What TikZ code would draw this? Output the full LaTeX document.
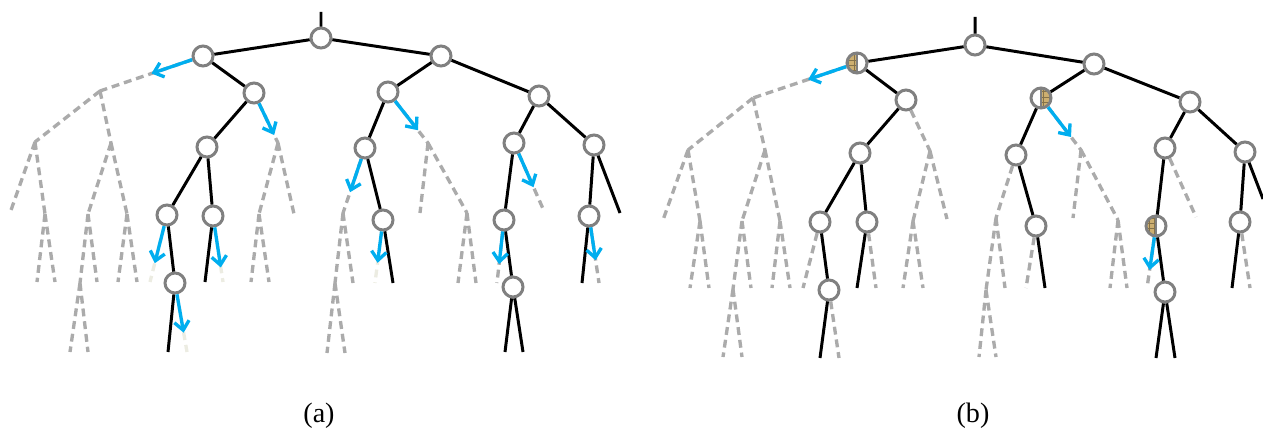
\documentclass[tikz,border=0pt]{standalone}
\usepackage{fontspec}
\setmainfont{Liberation Serif}
\usetikzlibrary{calc,arrows.meta,patterns}
\definecolor{hop}{RGB}{0,174,239}
\definecolor{seed}{RGB}{205,175,112}
\definecolor{husk}{RGB}{236,236,226}
\tikzstyle{vertex}=[circle,draw=gray,line width=1.7pt,fill=white,minimum size=0.4cm,inner sep=0pt]
\tikzstyle{tree}=[black,line width=1.7pt]
\tikzstyle{pruned}=[gray!66,line width=1.9pt,dash pattern=on 4.5pt off 2.8pt]
\tikzstyle{faded}=[pruned,draw=husk]
\tikzstyle{leap}=[draw=hop,line width=1.9pt,-{Straight Barb[length=5pt,width=8.5pt]}]
\tikzstyle{seedl}=[vertex,path picture={
  \fill[seed] (path picture bounding box.south west) rectangle (path picture bounding box.north);
  \fill[pattern=grid,pattern color=seed!65!black] (path picture bounding box.south west) rectangle (path picture bounding box.north);
  \draw[gray,line width=1.2pt] (path picture bounding box.north) -- (path picture bounding box.south);}]
\tikzstyle{seedr}=[vertex,path picture={
  \fill[seed] (path picture bounding box.south) rectangle (path picture bounding box.north east);
  \fill[pattern=grid,pattern color=seed!65!black] (path picture bounding box.south) rectangle (path picture bounding box.north east);
  \draw[gray,line width=1.2pt] (path picture bounding box.north) -- (path picture bounding box.south);}]

\begin{document}
\begin{tikzpicture}[x=0.02cm,y=-0.02cm]
\useasboundingbox (0,0) rectangle (1263,429);

% ---------- (a) ----------
\node[vertex] (ar) at (321,38) {};
\node[vertex] (aA) at (203,56) {};
\node[vertex] (aB) at (441,56) {};
\node[vertex] (aC) at (254,93) {};
\node[vertex] (aD) at (207,147) {};
\node[vertex] (aE) at (167,215) {};
\node[vertex] (aF) at (213,216) {};
\node[vertex] (aG) at (175,283) {};
\node[vertex] (aH) at (388,92) {};
\node[vertex] (aI) at (539,96) {};
\node[vertex] (aJ) at (365,148) {};
\node[vertex] (aK) at (383,220) {};
\node[vertex] (aL) at (514,143) {};
\node[vertex] (aM) at (594,145) {};
\node[vertex] (aN) at (504,220) {};
\node[vertex] (aO) at (513,287) {};
\node[vertex] (aP) at (589,216) {};

\coordinate (aT) at (321,12);
\coordinate (ax1) at (100,91);
\coordinate (ax2) at (35,142);
\coordinate (ax3) at (111,143);
\coordinate (ax4) at (10,213);
\coordinate (ax5) at (45,214);
\coordinate (ax6) at (37,282);
\coordinate (ax7) at (55,282);
\coordinate (ax8) at (88,214);
\coordinate (ax9) at (127,214);
\coordinate (ax10) at (80,283);
\coordinate (ax11) at (97,282);
\coordinate (ax12) at (70,352);
\coordinate (ax13) at (88,352);
\coordinate (ax14) at (118,282);
\coordinate (ax15) at (137,282);
\coordinate (ay1) at (278,143);
\coordinate (ay2) at (259,214);
\coordinate (ay3) at (294,214);
\coordinate (ay4) at (251,282);
\coordinate (ay5) at (269,282);
\coordinate (az1) at (428,143);
\coordinate (az2) at (420,213);
\coordinate (az3) at (467,213);
\coordinate (az4) at (458,283);
\coordinate (az5) at (476,283);
\coordinate (aw1) at (343,213);
\coordinate (aw2) at (335,283);
\coordinate (aw3) at (353,283);
\coordinate (aw4) at (327,353);
\coordinate (aw5) at (345,353);
\coordinate (aE1) at (150,282);
\coordinate (aG1) at (168,352);
\coordinate (aG2) at (187,352);
\coordinate (aF1) at (205,282);
\coordinate (aF2) at (223,282);
\coordinate (aK1) at (375,283);
\coordinate (aK2) at (393,283);
\coordinate (aL1) at (544,211);
\coordinate (aN1) at (497,283);
\coordinate (aO1) at (505,352);
\coordinate (aO2) at (523,352);
\coordinate (aM1) at (620,213);
\coordinate (aP1) at (582,283);
\coordinate (aP2) at (599,283);

\draw[tree] (ar) -- (aT) (ar) -- (aA) (ar) -- (aB);
\draw[tree] (aA) -- (aC) (aC) -- (aD) (aD) -- (aE) (aD) -- (aF) (aE) -- (aG) (aG) -- (aG1) (aF) -- (aF1);
\draw[tree] (aB) -- (aH) (aB) -- (aI) (aH) -- (aJ) (aJ) -- (aK) (aK) -- (aK2);
\draw[tree] (aI) -- (aL) (aI) -- (aM) (aL) -- (aN) (aN) -- (aO) (aO) -- (aO1) (aO) -- (aO2);
\draw[tree] (aM) -- (aP) (aM) -- (aM1) (aP) -- (aP1);

\draw[pruned] (aA) -- (ax1) (ax1) -- (ax2) (ax1) -- (ax3) (ax2) -- (ax4) (ax2) -- (ax5)
  (ax5) -- (ax6) (ax5) -- (ax7) (ax3) -- (ax8) (ax3) -- (ax9) (ax8) -- (ax10) (ax8) -- (ax11)
  (ax10) -- (ax12) (ax10) -- (ax13) (ax9) -- (ax14) (ax9) -- (ax15);
\draw[pruned] (aC) -- (ay1) (ay1) -- (ay2) (ay1) -- (ay3) (ay2) -- (ay4) (ay2) -- (ay5);
\draw[pruned] (aH) -- (az1) (az1) -- (az2) (az1) -- (az3) (az3) -- (az4) (az3) -- (az5);
\draw[pruned] (aJ) -- (aw1) (aw1) -- (aw2) (aw1) -- (aw3) (aw2) -- (aw4) (aw2) -- (aw5);
\draw[pruned] (aL) -- (aL1) (aN) -- (aN1) (aP) -- (aP2);
\draw[faded] (aE) -- (aE1) (aG) -- (aG2) (aF) -- (aF2) (aK) -- (aK1);

\draw[leap] (aA) -- ($(aA)!.5!(ax1)$);
\draw[leap] (aC) -- ($(aC)!.84!(ay1)$);
\draw[leap] (aE) -- ($(aE)!.72!(aE1)$);
\draw[leap] (aG) -- ($(aG)!.72!(aG2)$);
\draw[leap] (aF) -- ($(aF)!.78!(aF2)$);
\draw[leap] (aH) -- ($(aH)!.75!(az1)$);
\draw[leap] (aJ) -- ($(aJ)!.68!(aw1)$);
\draw[leap] (aK) -- ($(aK)!.68!(aK1)$);
\draw[leap] (aL) -- ($(aL)!.65!(aL1)$);
\draw[leap] (aN) -- ($(aN)!.7!(aN1)$);
\draw[leap] (aP) -- ($(aP)!.66!(aP2)$);

\node[font=\fontsize{16}{18}\selectfont] (capa) at (319,416) {(a)};

% ---------- (b) ----------
\node[vertex] (br) at (975,45) {};
\node[seedl] (bA) at (857,63) {};
\node[vertex] (bB) at (1094,64) {};
\node[vertex] (bC) at (906,100) {};
\node[vertex] (bD) at (860,153) {};
\node[vertex] (bE) at (820,222) {};
\node[vertex] (bF) at (867,222) {};
\node[vertex] (bG) at (829,290) {};
\node[seedr] (bH) at (1041,98) {};
\node[vertex] (bI) at (1190,102) {};
\node[vertex] (bJ) at (1016,155) {};
\node[vertex] (bK) at (1036,226) {};
\node[vertex] (bL) at (1165,148) {};
\node[vertex] (bM) at (1245,152) {};
\node[seedl] (bN) at (1156,226) {};
\node[vertex] (bO) at (1165,292) {};
\node[vertex] (bP) at (1240,222) {};

\coordinate (bT) at (975,17);
\coordinate (bx1) at (753,98);
\coordinate (bx2) at (688,150);
\coordinate (bx3) at (765,150);
\coordinate (bx4) at (663,220);
\coordinate (bx5) at (700,221);
\coordinate (bx6) at (690,288);
\coordinate (bx7) at (709,288);
\coordinate (bx8) at (742,221);
\coordinate (bx9) at (780,221);
\coordinate (bx10) at (733,289);
\coordinate (bx11) at (751,288);
\coordinate (bx12) at (723,357);
\coordinate (bx13) at (742,357);
\coordinate (bx14) at (772,288);
\coordinate (bx15) at (790,288);
\coordinate (by1) at (930,151);
\coordinate (by2) at (913,221);
\coordinate (by3) at (947,219);
\coordinate (by4) at (903,288);
\coordinate (by5) at (923,288);
\coordinate (bz1) at (1081,150);
\coordinate (bz2) at (1073,218);
\coordinate (bz3) at (1118,220);
\coordinate (bz4) at (1110,288);
\coordinate (bz5) at (1127,288);
\coordinate (bw1) at (996,218);
\coordinate (bw2) at (986,290);
\coordinate (bw3) at (1005,288);
\coordinate (bw4) at (979,357);
\coordinate (bw5) at (996,357);
\coordinate (bE1) at (803,288);
\coordinate (bG1) at (820,358);
\coordinate (bG2) at (839,358);
\coordinate (bF1) at (857,288);
\coordinate (bF2) at (876,288);
\coordinate (bK1) at (1026,288);
\coordinate (bK2) at (1045,288);
\coordinate (bL1) at (1196,217);
\coordinate (bN1) at (1147,288);
\coordinate (bO1) at (1156,358);
\coordinate (bO2) at (1175,358);
\coordinate (bM1) at (1263,199);
\coordinate (bP1) at (1232,288);
\coordinate (bP2) at (1250,288);

\draw[tree] (br) -- (bT) (br) -- (bA) (br) -- (bB);
\draw[tree] (bA) -- (bC) (bC) -- (bD) (bD) -- (bE) (bD) -- (bF) (bE) -- (bG) (bG) -- (bG1) (bF) -- (bF1);
\draw[tree] (bB) -- (bH) (bB) -- (bI) (bH) -- (bJ) (bJ) -- (bK) (bK) -- (bK2);
\draw[tree] (bI) -- (bL) (bI) -- (bM) (bL) -- (bN) (bN) -- (bO) (bO) -- (bO1) (bO) -- (bO2);
\draw[tree] (bM) -- (bP) (bM) -- (bM1) (bP) -- (bP1);

\draw[pruned] (bA) -- (bx1) (bx1) -- (bx2) (bx1) -- (bx3) (bx2) -- (bx4) (bx2) -- (bx5)
  (bx5) -- (bx6) (bx5) -- (bx7) (bx3) -- (bx8) (bx3) -- (bx9) (bx8) -- (bx10) (bx8) -- (bx11)
  (bx10) -- (bx12) (bx10) -- (bx13) (bx9) -- (bx14) (bx9) -- (bx15);
\draw[pruned] (bC) -- (by1) (by1) -- (by2) (by1) -- (by3) (by2) -- (by4) (by2) -- (by5);
\draw[pruned] (bH) -- (bz1) (bz1) -- (bz2) (bz1) -- (bz3) (bz3) -- (bz4) (bz3) -- (bz5);
\draw[pruned] (bJ) -- (bw1) (bw1) -- (bw2) (bw1) -- (bw3) (bw2) -- (bw4) (bw2) -- (bw5);
\draw[pruned] (bE) -- (bE1) (bG) -- (bG2) (bF) -- (bF2) (bK) -- (bK1);
\draw[pruned] (bL) -- (bL1) (bN) -- (bN1) (bP) -- (bP2);

\draw[leap] (bA) -- ($(bA)!.47!(bx1)$);
\draw[leap] (bH) -- ($(bH)!.75!(bz1)$);
\draw[leap] (bN) -- ($(bN)!.71!(bN1)$);

\node[font=\fontsize{16}{18}\selectfont] (capb) at (973,416) {(b)};
\end{tikzpicture}
\end{document}
